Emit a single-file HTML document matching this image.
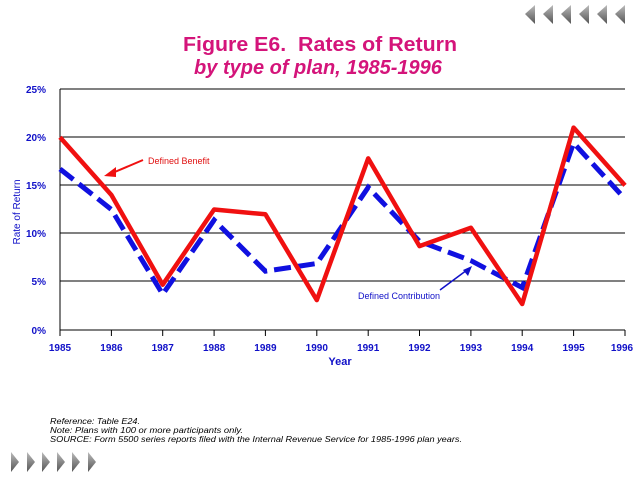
<!DOCTYPE html>
<html><head><style>body{margin:0;background:#fff;}svg{display:block;}</style></head><body>
<svg width="640" height="480" xmlns="http://www.w3.org/2000/svg">
<defs><linearGradient id="g" x1="0" y1="0" x2="0" y2="1"><stop offset="0" stop-color="#bbb"/><stop offset="1" stop-color="#555"/></linearGradient></defs>
<g fill="url(#g)">
<polygon points="535,5 535,24 525,14"/><polygon points="553,5 553,24 543,14"/><polygon points="571,5 571,24 561,14"/><polygon points="589,5 589,24 579,14"/><polygon points="607,5 607,24 597,14"/><polygon points="625,5 625,24 615,14"/>
<polygon points="11,452 11,472 19,462"/><polygon points="27,452 27,472 35,462"/><polygon points="42,452 42,472 50,462"/><polygon points="57,452 57,472 65,462"/><polygon points="72,452 72,472 80,462"/><polygon points="88,452 88,472 96,462"/>
</g>
<text x="320" y="51" text-anchor="middle" font-family="Liberation Sans,sans-serif" font-weight="bold" font-size="20" fill="#d4147a" textLength="274" lengthAdjust="spacingAndGlyphs">Figure E6.&#160; Rates of Return</text>
<text x="318" y="74" text-anchor="middle" font-family="Liberation Sans,sans-serif" font-weight="bold" font-style="italic" font-size="20" fill="#d4147a">by type of plan, 1985-1996</text>
<g stroke="#000" stroke-width="1">
<line x1="60" y1="89" x2="625" y2="89"/><line x1="60" y1="137" x2="625" y2="137"/><line x1="60" y1="185" x2="625" y2="185"/><line x1="60" y1="233" x2="625" y2="233"/><line x1="60" y1="281" x2="625" y2="281"/><line x1="60" y1="330" x2="625" y2="330"/>
<line x1="60" y1="89" x2="60" y2="330"/>
<path d="M60,330v6M111.4,330v6M162.7,330v6M214.1,330v6M265.4,330v6M316.8,330v6M368.2,330v6M419.5,330v6M470.9,330v6M522.2,330v6M573.6,330v6M625,330v6"/>
</g>
<g font-family="Liberation Sans,sans-serif" font-weight="bold" font-size="10" fill="#1010c8" text-anchor="end">
<text x="46" y="93">25%</text><text x="46" y="141">20%</text><text x="46" y="189">15%</text><text x="46" y="237">10%</text><text x="46" y="285">5%</text><text x="46" y="334">0%</text>
</g>
<g font-family="Liberation Sans,sans-serif" font-weight="bold" font-size="10" fill="#1010c8" text-anchor="middle">
<text x="60" y="351">1985</text><text x="111.4" y="351">1986</text><text x="162.7" y="351">1987</text><text x="214.1" y="351">1988</text><text x="265.4" y="351">1989</text><text x="316.8" y="351">1990</text><text x="368.2" y="351">1991</text><text x="419.5" y="351">1992</text><text x="470.9" y="351">1993</text><text x="522.2" y="351">1994</text><text x="573.6" y="351">1995</text><text x="622" y="351">1996</text>
<text x="340" y="365" font-size="11">Year</text>
</g>
<text transform="translate(20,212) rotate(-90)" text-anchor="middle" font-family="Liberation Sans,sans-serif" font-size="10" fill="#1010c8">Rate of Return</text>
<polyline fill="none" stroke="#1010e0" stroke-width="5" stroke-dasharray="17,7" points="60,169 111.4,209.5 162.7,294.3 214.1,220.1 265.4,271.2 316.8,263.5 368.2,187.3 419.5,241.3 470.9,260.6 522.2,287.6 573.6,143 625,198.9"/>
<polyline fill="none" stroke="#f01010" stroke-width="4.5" stroke-linejoin="round" points="60,137.2 111.4,195 162.7,284.7 214.1,209.5 265.4,214.3 316.8,300.1 368.2,158.4 419.5,246.1 470.9,227.8 522.2,304 573.6,127.6 625,185.4"/>
<line x1="143" y1="160" x2="110" y2="174" stroke="#f01010" stroke-width="2"/><polygon points="104,176 116,167 116,177" fill="#f01010"/>
<text x="148" y="164" font-family="Liberation Sans,sans-serif" font-size="9" fill="#e01010">Defined Benefit</text>
<line x1="440" y1="290" x2="467" y2="270" stroke="#1010c8" stroke-width="1.5"/><polygon points="472,266 463,270 468,276" fill="#1010c8"/>
<text x="358" y="299" font-family="Liberation Sans,sans-serif" font-size="9" fill="#1010c8">Defined Contribution</text>
<g font-family="Liberation Sans,sans-serif" font-style="italic" font-size="8.5" fill="#000">
<text x="50" y="424" textLength="90" lengthAdjust="spacingAndGlyphs">Reference: Table E24.</text>
<text x="50" y="433" textLength="193" lengthAdjust="spacingAndGlyphs">Note: Plans with 100 or more participants only.</text>
<text x="50" y="442" textLength="412" lengthAdjust="spacingAndGlyphs">SOURCE: Form 5500 series reports filed with the Internal Revenue Service for 1985-1996 plan years.</text>
</g>
</svg>
</body></html>
